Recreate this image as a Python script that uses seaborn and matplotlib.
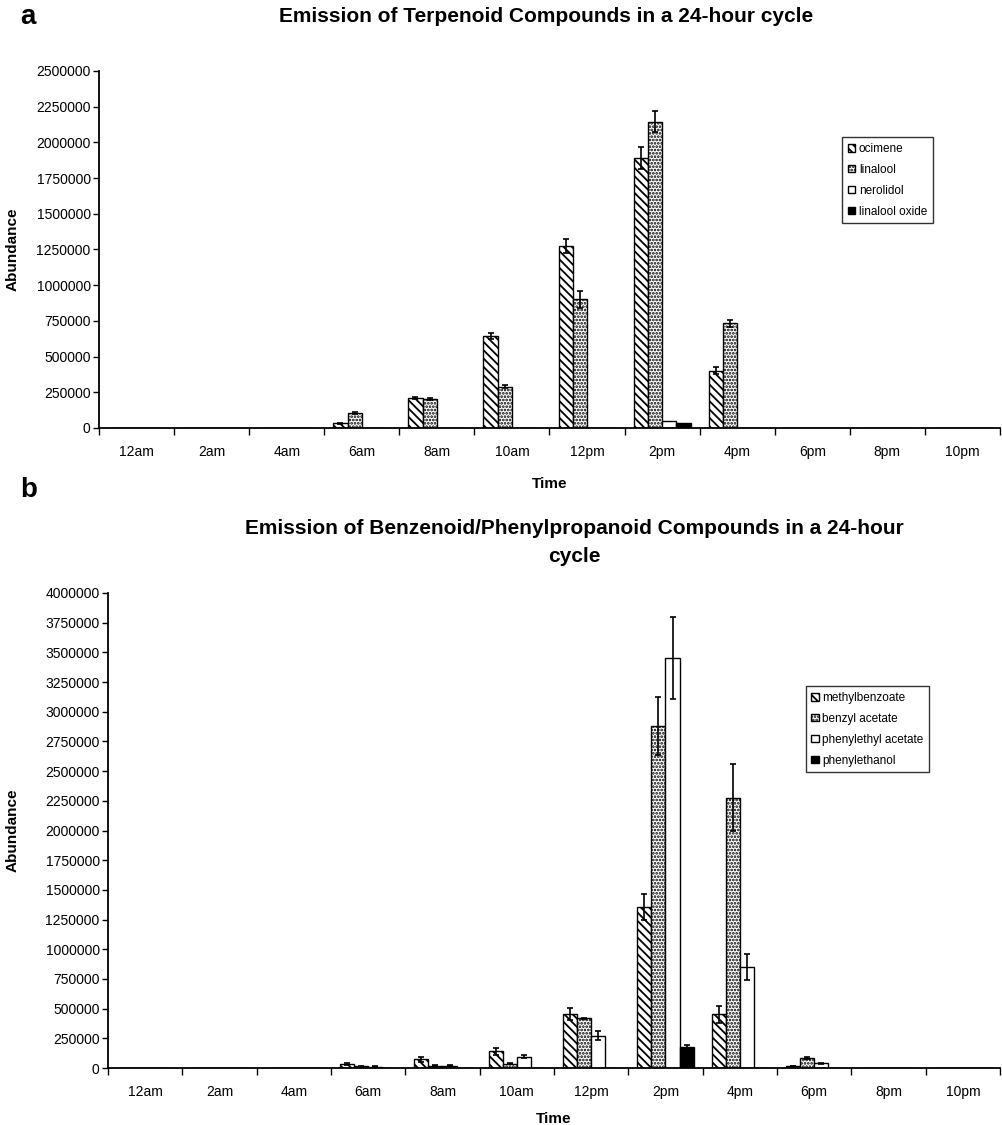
'''
python plot.py
'''
import seaborn as sns
import matplotlib
import matplotlib.pyplot as plt
import matplotlib.ticker as mticker
import pandas as pd


save_name = 'out'

times = ['12am', '2am', '4am', '6am', '8am', '10am',
         '12pm', '2pm', '4pm', '6pm', '8pm', '10pm']

# panel a - terpenoids
terp_names = ['ocimene', 'linalool', 'nerolidol', 'linalool oxide']
ocimene = [0, 0, 0, 33000, 212000, 644000, 1274000, 1888000, 401000, 0, 0, 0]
linalool = [0, 0, 0, 105000, 201000, 289000, 901000, 2145000, 733000, 0, 0, 0]
nerolidol = [0, 0, 0, 0, 0, 0, 0, 51000, 0, 0, 0, 0]
linalool_oxide = [0, 0, 0, 0, 0, 0, 0, 33000, 0, 0, 0, 0]
ocimene_err = [0, 0, 0, 4000, 8000, 23000, 51000, 77000, 24000, 0, 0, 0]
linalool_err = [0, 0, 0, 6000, 8000, 12000, 60000, 72000, 23000, 0, 0, 0]
nerolidol_err = [0] * 12
linalool_oxide_err = [0] * 12

# panel b - benzenoids / phenylpropanoids
benz_names = ['methylbenzoate', 'benzyl acetate', 'phenylethyl acetate', 'phenylethanol']
methylbenzoate = [0, 0, 0, 34000, 74000, 139000, 452000, 1353000, 452000, 17000, 0, 0]
benzyl_acetate = [0, 0, 0, 14000, 20000, 34000, 418000, 2883000, 2276000, 88000, 0, 0]
phenylethyl_acetate = [0, 0, 0, 12000, 18000, 96000, 272000, 3450000, 848000, 40000, 0, 0]
phenylethanol = [0, 0, 0, 0, 0, 0, 0, 174000, 0, 0, 0, 0]
methylbenzoate_err = [0, 0, 0, 5000, 20000, 26000, 50000, 110000, 70000, 3000, 0, 0]
benzyl_acetate_err = [0, 0, 0, 3000, 4000, 4000, 5000, 245000, 280000, 8000, 0, 0]
phenylethyl_acetate_err = [0, 0, 0, 3000, 4000, 12000, 40000, 345000, 110000, 3000, 0, 0]
phenylethanol_err = [0, 0, 0, 0, 0, 0, 0, 20000, 0, 0, 0, 0]


sns.set_style('ticks')
plt.rcParams['font.family'] = ['Liberation Sans', 'DejaVu Sans']
plt.rcParams['hatch.linewidth'] = 1.3
plt.rcParams['hatch.color'] = 'black'
# everything black like the original
for key in ['text.color', 'axes.labelcolor', 'xtick.color', 'ytick.color', 'axes.edgecolor']:
    plt.rcParams[key] = 'black'

styles = [
    ('white', '\\\\\\\\'),
    ('white', '.....'),
    ('white', ''),
    ('black', ''),
]


def make_df(names, series):
    rows = []
    for name, vals in zip(names, series):
        for t, v in zip(times, vals):
            rows.append([t, name, v])
    return pd.DataFrame(rows, columns=['Time', 'Compound', 'Abundance'])


def draw_panel(ax, names, series, errs, ymax, legend_xy):
    df = make_df(names, series)
    palette = {n: s[0] for n, s in zip(names, styles)}
    sns.barplot(df, x='Time', y='Abundance', hue='Compound',
                order=times, hue_order=names, palette=palette,
                width=0.76, edgecolor='black', linewidth=1.0,
                errorbar=None, legend=False, ax=ax)
    for cont, (fc, hatch), err in zip(ax.containers, styles, errs):
        for bar, e in zip(cont, err):
            bar.set_facecolor(fc)
            bar.set_hatch(hatch)
            if e > 0:
                ax.errorbar(bar.get_x() + bar.get_width() / 2, bar.get_height(),
                            yerr=e, fmt='none', ecolor='black',
                            elinewidth=1.2, capsize=2.5, capthick=1.2)

    ax.set_xlim(-0.5, len(times) - 0.5)
    ax.set_ylim(0, ymax)
    ax.yaxis.set_major_locator(mticker.MultipleLocator(250000))
    ax.yaxis.set_major_formatter(mticker.StrMethodFormatter('{x:.0f}'))
    ax.xaxis.set_minor_locator(mticker.FixedLocator([i - 0.5 for i in range(len(times) + 1)]))
    ax.tick_params(axis='x', which='major', length=0, pad=12, labelsize=10)
    ax.tick_params(axis='x', which='minor', length=5, width=1.0, direction='out')
    ax.tick_params(axis='y', length=4, width=1.0, direction='out', pad=2, labelsize=10)
    sns.despine(ax=ax)
    for sp in ['left', 'bottom']:
        ax.spines[sp].set_linewidth(1.3)

    ax.set_xlabel('Time', fontsize=11, fontweight='bold')
    ax.set_ylabel('Abundance', fontsize=11, fontweight='bold')

    leg = ax.legend(ax.containers, names, loc='upper left', bbox_to_anchor=legend_xy,
                    borderaxespad=0, fontsize=8.5, frameon=True, fancybox=False,
                    edgecolor='black', handlelength=0.6, handleheight=0.6,
                    handletextpad=0.3, labelspacing=0.75, borderpad=0.5)
    leg.get_frame().set_linewidth(1.0)


fig = plt.figure(figsize=(10.03, 11.25), dpi=100)
ax_a = fig.add_axes([99 / 1003, 1 - 428 / 1125, 901 / 1003, 357 / 1125])
ax_b = fig.add_axes([108 / 1003, 1 - 1068 / 1125, 892 / 1003, 475 / 1125])

draw_panel(ax_a, terp_names,
           [ocimene, linalool, nerolidol, linalool_oxide],
           [ocimene_err, linalool_err, nerolidol_err, linalool_oxide_err],
           2500000, (0.825, 0.815))
draw_panel(ax_b, benz_names,
           [methylbenzoate, benzyl_acetate, phenylethyl_acetate, phenylethanol],
           [methylbenzoate_err, benzyl_acetate_err, phenylethyl_acetate_err, phenylethanol_err],
           4000000, (0.782, 0.804))

ax_a.yaxis.set_label_coords(-0.088, 0.5)
ax_b.yaxis.set_label_coords(-0.099, 0.5)
ax_a.xaxis.set_label_coords(0.5, -0.137)
ax_b.xaxis.set_label_coords(0.5, -0.093)

fig.text(20 / 1003, 1 - 17 / 1125, 'a', fontsize=20, fontweight='bold', va='center', ha='left')
fig.text(20 / 1003, 1 - 490 / 1125, 'b', fontsize=20, fontweight='bold', va='center', ha='left')
fig.text(546 / 1003, 1 - 17 / 1125, 'Emission of Terpenoid Compounds in a 24-hour cycle',
         fontsize=15, fontweight='bold', ha='center', va='center')
fig.text(574 / 1003, 1 - 543 / 1125,
         'Emission of Benzenoid/Phenylpropanoid Compounds in a 24-hour\ncycle',
         fontsize=15, fontweight='bold', ha='center', va='center', linespacing=1.6)

fig.savefig(f'{save_name}.png', dpi=100)
